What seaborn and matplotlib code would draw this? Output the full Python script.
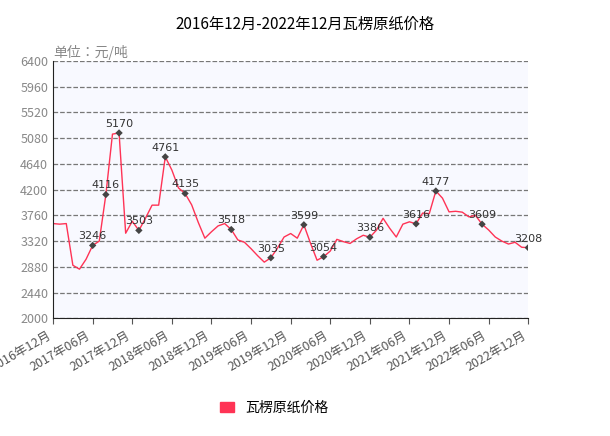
import pandas as pd
import numpy as np
import matplotlib.pyplot as plt
import seaborn as sns

plt.rcParams["font.family"] = ["Noto Sans CJK SC", "Noto Sans CJK TC", "Noto Sans CJK JP",
                               "Noto Sans CJK KR", "DejaVu Sans"]

months = pd.date_range("2016-12-01", "2022-12-01", freq="MS")
prices = [3620, 3610, 3620, 2907, 2840, 3010, 3246, 3320, 4116, 5150,
          5170, 3455, 3660, 3503, 3710, 3935, 3935, 4761, 4535, 4230,
          4135, 3940, 3640, 3370, 3480, 3580, 3620, 3518, 3340, 3300,
          3190, 3070, 2960, 3035, 3200, 3390, 3450, 3370, 3599, 3285,
          2993, 3054, 3150, 3350, 3310, 3280, 3360, 3420, 3386, 3507,
          3710, 3540, 3390, 3610, 3650, 3616, 3800, 3790, 4177, 4055,
          3820, 3830, 3815, 3735, 3760, 3609, 3510, 3390, 3320, 3270,
          3300, 3215, 3208]
labeled_idx = [6, 8, 10, 13, 17, 20, 27, 33, 38, 41, 48, 55, 58, 65, 72]
tick_labels = [f"{d.year}年{d.month:02d}月" for d in months[::6]]

df = pd.DataFrame({"x": np.arange(len(months)), "price": prices})

fig = plt.figure(figsize=(6.1, 4.36), dpi=100)
ax = fig.add_axes([0.087, 0.27, 0.779, 0.59])
ax.set_facecolor("#f8f9ff")

sns.lineplot(data=df, x="x", y="price", ax=ax, color="#ff3355", linewidth=1, legend=False)
pts = df.iloc[labeled_idx]
sns.scatterplot(data=pts, x="x", y="price", ax=ax, marker="D", s=14,
                color="#444444", edgecolor="none", zorder=3, legend=False)
for _, r in pts.iterrows():
    ax.text(r["x"], r["price"] + 70, f"{int(r['price'])}", ha="center",
            va="bottom", fontsize=8, color="#333333", family="DejaVu Sans")

ax.set_xlim(0, len(months) - 1)
ax.set_ylim(2000, 6400)
ax.set_yticks(np.arange(2000, 6401, 440))
ax.yaxis.grid(True, linestyle="--", color="#777777", linewidth=0.9)
ax.set_axisbelow(True)
ax.set_xticks(df["x"][::6])
ax.set_xticklabels(tick_labels, rotation=30, ha="right", fontsize=9, color="#555555")
ax.tick_params(axis="y", labelsize=9, labelcolor="#888888", length=0)
ax.tick_params(axis="x", length=4, color="#555555")
for s in ["top", "right"]:
    ax.spines[s].set_visible(False)
ax.spines["left"].set_color("#222222")
ax.spines["bottom"].set_color("#222222")
ax.set_xlabel("")
ax.set_ylabel("")
ax.text(0.0, 1.005, "单位：元/吨", transform=ax.transAxes, fontsize=10,
        color="#888888", va="bottom", ha="left")

fig.suptitle("2016年12月-2022年12月瓦楞原纸价格", y=0.965, fontsize=11)

handles = [plt.Rectangle((0, 0), 1, 1, color="#ff3355")]
fig.legend(handles, ["瓦楞原纸价格"], loc="lower center", bbox_to_anchor=(0.45, 0.02),
           frameon=False, fontsize=10, handlelength=1, handleheight=0.8)

fig.savefig("out.png", dpi=100)
